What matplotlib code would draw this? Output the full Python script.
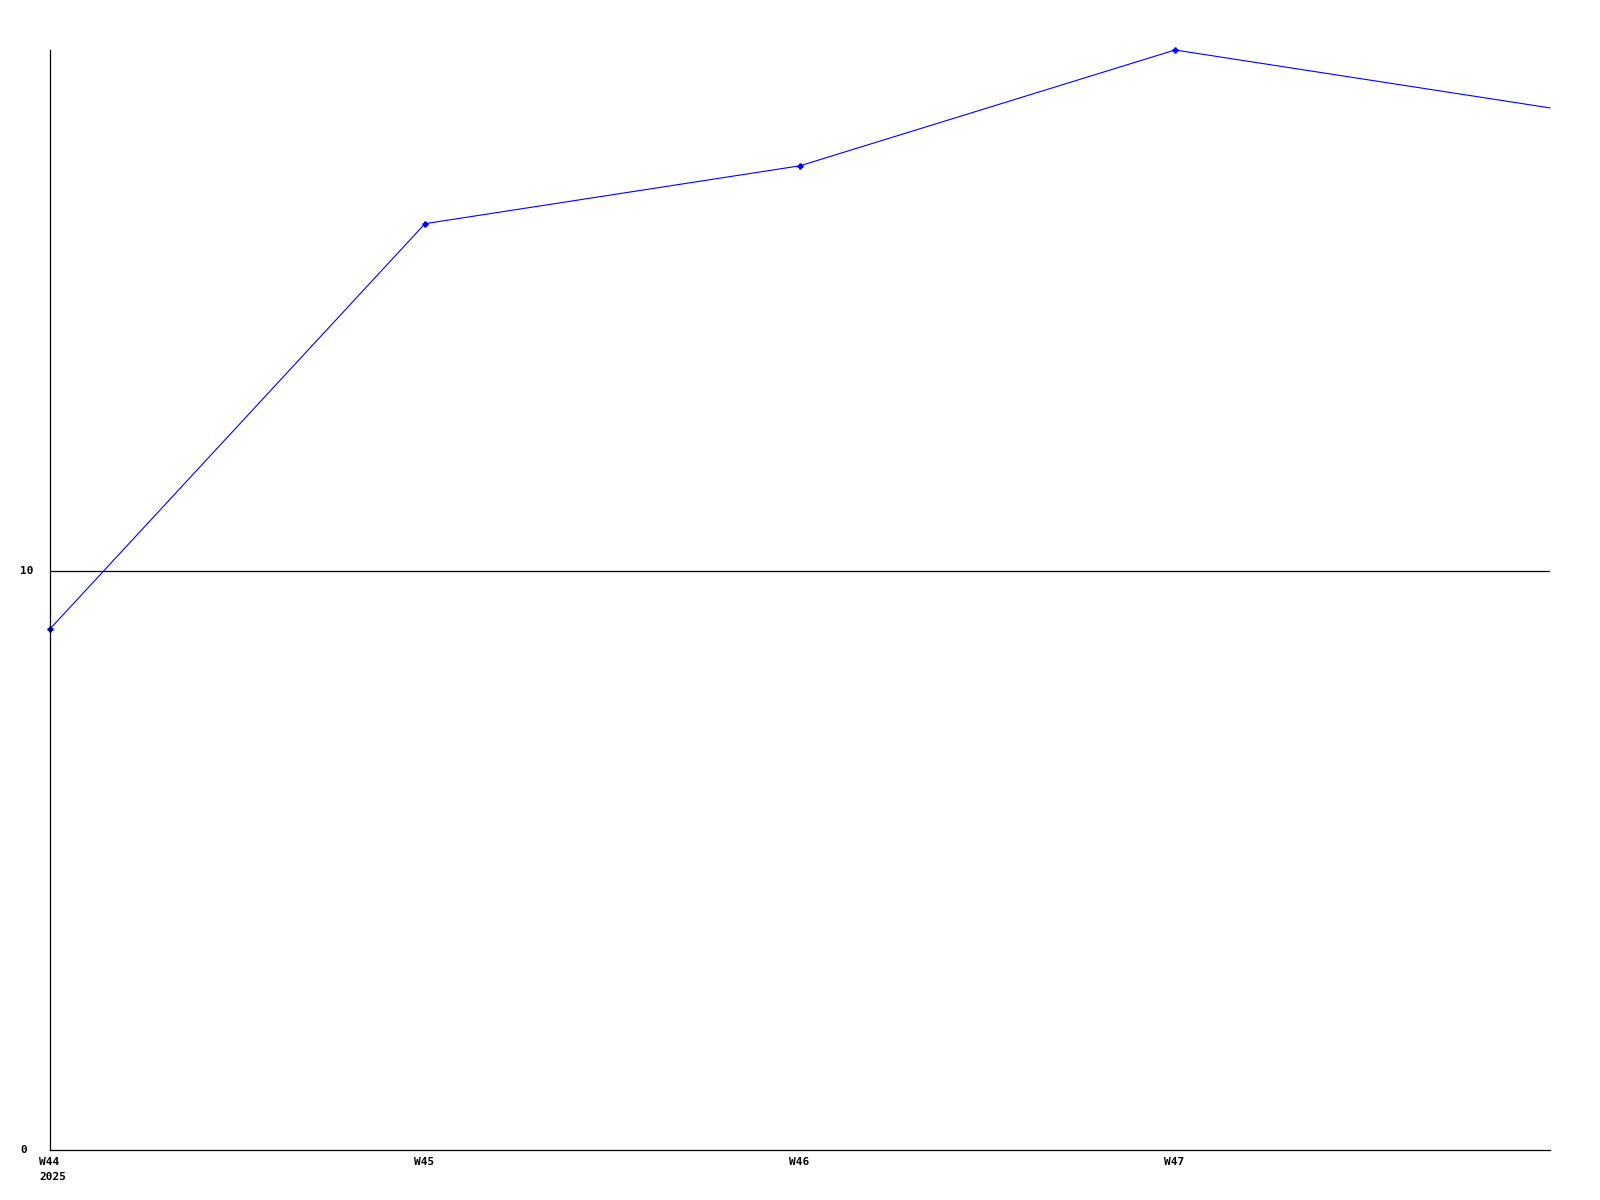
import matplotlib
matplotlib.use("Agg")
import matplotlib.pyplot as plt
from matplotlib.transforms import offset_copy

weeks = ["W44", "W45", "W46", "W47", "W48"]
values = [9, 16, 17, 19, 18]
xlabels = ["W44\n2025", "W45", "W46", "W47"]
yticks = [0, 10]

W, H = 1600, 1200
fig = plt.figure(figsize=(16, 12), dpi=100)
ax = fig.add_axes([50 / W, 1 - 1150 / H, 1500 / W, 1100 / H])

x = list(range(len(weeks)))
ax.plot(x, values, color="#0000ff", lw=0.8, marker="P", ms=3.5,
        markevery=list(range(len(weeks) - 1)), clip_on=False)

ax.set_xlim(0, len(weeks) - 1)
ax.set_ylim(0, max(values))
ax.axhline(10, color="black", lw=0.9, zorder=1)

for s in ["top", "right"]:
    ax.spines[s].set_visible(False)
for s in ["left", "bottom"]:
    ax.spines[s].set_linewidth(0.9)
ax.set_xticks([])
ax.set_yticks([])

font = dict(family="DejaVu Sans Mono", fontsize=8, fontweight="bold")

# x labels under the axis
for i, lab in enumerate(xlabels):
    tr = offset_copy(ax.get_xaxis_transform(), fig=fig, x=-11, y=-7, units="dots")
    ax.text(i, 0, lab, transform=tr, ha="left", va="top", linespacing=1.6, **font)

# y labels at the left edge of the figure
for v in yticks:
    ypix = 1150 - v * (1100 / max(values))
    fig.text(20 / W, 1 - ypix / H, str(v), ha="left", va="center", **font)

fig.savefig("out.png", dpi=100, facecolor="white")
